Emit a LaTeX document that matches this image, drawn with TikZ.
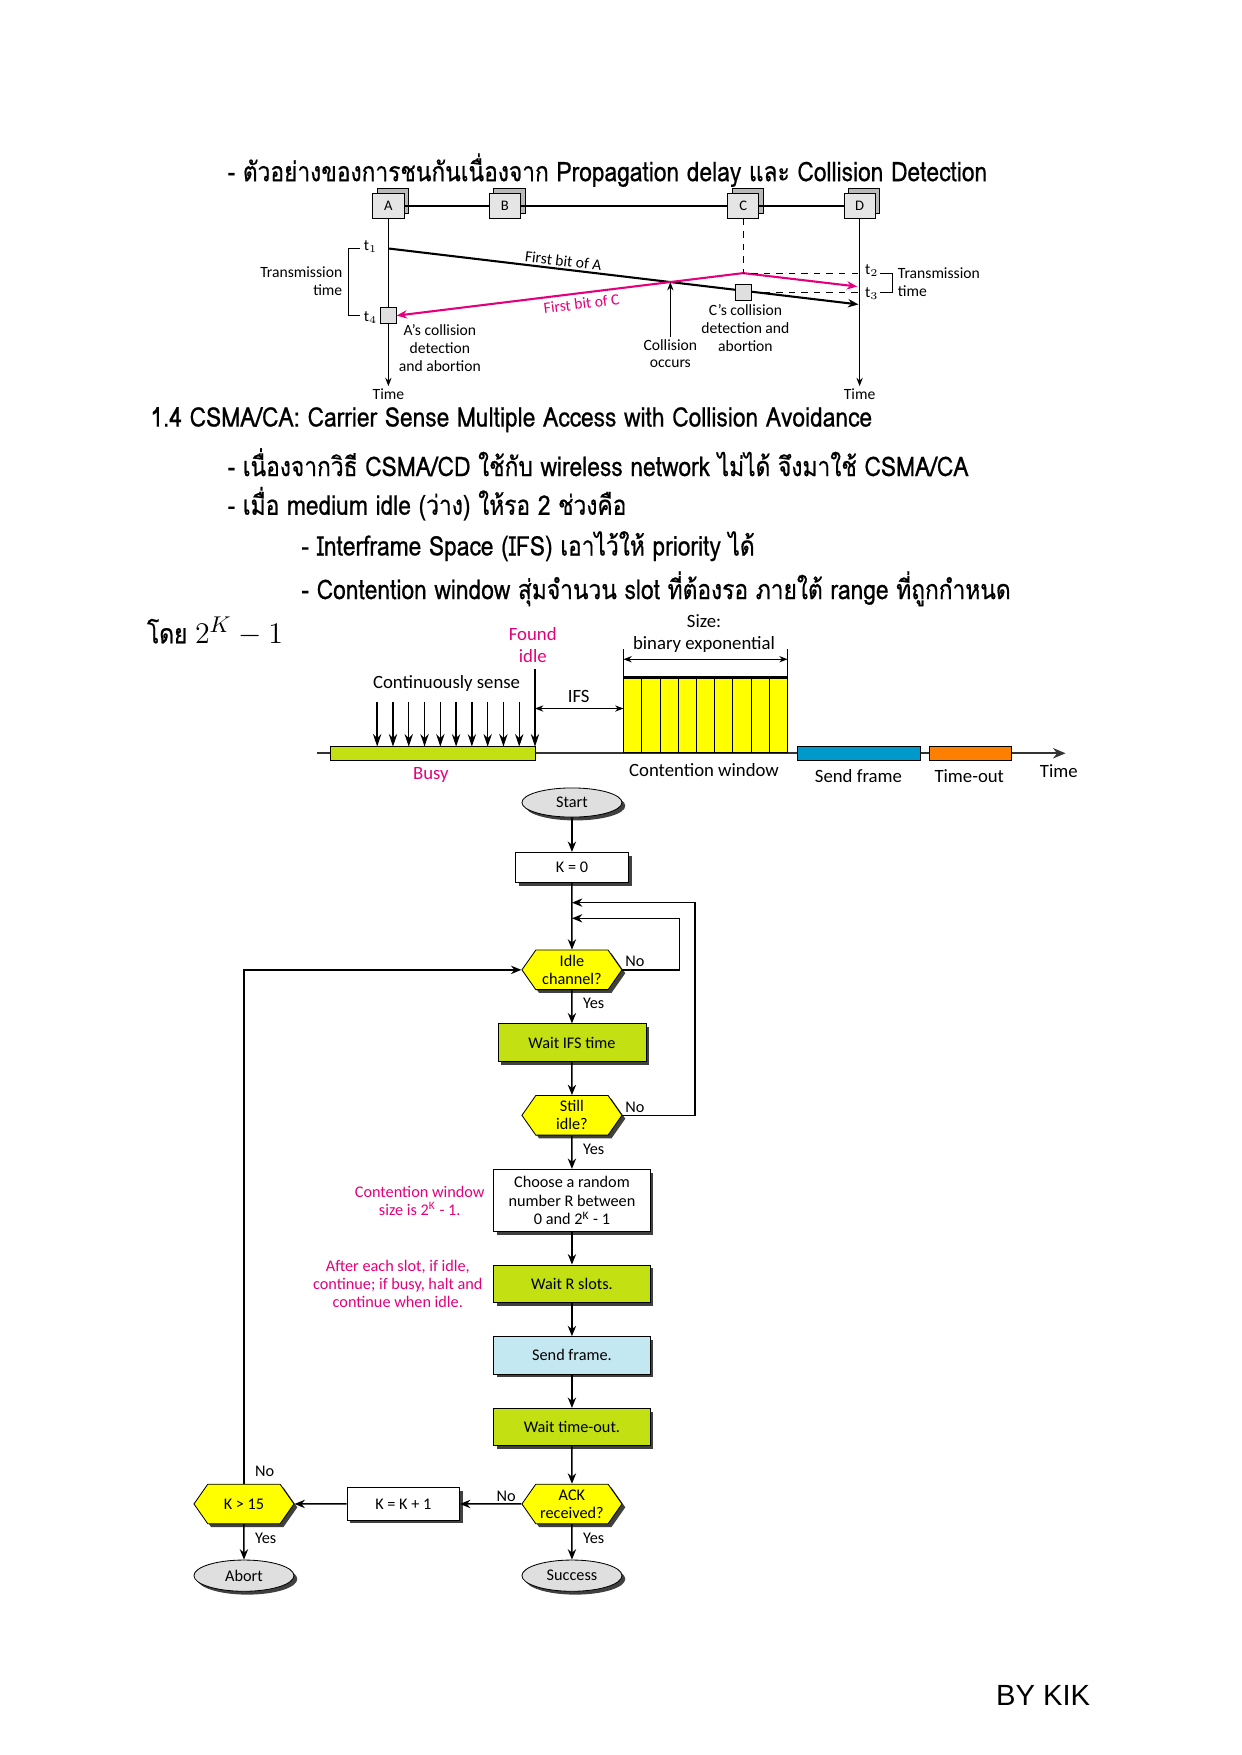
\documentclass[tikz,border=0pt]{standalone}
\usepackage{fontspec}
\setmainfont{Carlito}
\newfontfamily\thaifont[Script=Thai, FakeStretch=0.84, FakeBold=0.6]{Loma}
\newfontfamily\signfont{Liberation Sans}
\usetikzlibrary{arrows.meta,positioning,calc,shapes.geometric,shapes.symbols,shadows,intersections}

\definecolor{busygreen}{RGB}{194,224,18}
\definecolor{cwyellow}{RGB}{255,255,0}
\definecolor{sendblue}{RGB}{0,153,204}
\definecolor{toorange}{RGB}{255,128,0}
\definecolor{notepink}{RGB}{228,0,124}
\definecolor{framecyan}{RGB}{196,232,242}

\begin{document}
\begin{tikzpicture}[
    x=0.5371pt, y=-0.5371pt,
    thaitext/.style={anchor=west, inner sep=0pt, font=\thaifont\fontsize{13}{15}\selectfont},
    small/.style={font=\fontsize{7.5}{8.5}\selectfont, inner sep=1pt},
    tline/.style={font=\fontsize{9}{10.5}\selectfont, inner sep=1pt},
    flow/.style={-{Stealth[length=5pt,width=4pt]}, line width=0.7pt},
    thinarrow/.style={-{Stealth[length=4pt,width=3pt]}, line width=0.5pt},
    pinkline/.style={notepink, line width=1pt, -{Stealth[length=5pt,width=4pt]}},
    box3d/.style={draw, fill=gray!20, minimum width=15pt, minimum height=12pt, inner sep=0pt,
        font=\fontsize{7}{8}\selectfont,
        general shadow={shadow xshift=2.2pt, shadow yshift=2.2pt, fill=gray!55, draw=black}},
    hitbox/.style={draw, fill=gray!25, minimum size=7.5pt, inner sep=0pt},
    bar/.style={draw, anchor=west, minimum height=6.8pt, inner sep=0pt},
    procbox/.style={draw, fill=white, minimum width=75pt, minimum height=18pt, inner sep=1pt, align=center,
        font=\fontsize{7.8}{9}\selectfont,
        drop shadow={shadow xshift=1.6pt, shadow yshift=-1.6pt, fill=black!75, opacity=1}},
    decide/.style={signal, signal to=west and east, signal pointer angle=110, draw, fill=cwyellow,
        minimum width=48pt, minimum height=19pt, inner sep=0pt, align=center,
        font=\fontsize{7.8}{8.6}\selectfont,
        drop shadow={shadow xshift=1.6pt, shadow yshift=-1.6pt, fill=black!75, opacity=1}},
    term/.style={ellipse, draw, fill=gray!25, minimum width=48pt, minimum height=14pt, inner sep=0pt,
        font=\fontsize{7.8}{9}\selectfont,
        drop shadow={shadow xshift=1.6pt, shadow yshift=-1.6pt, fill=black!75, opacity=1}},
    note/.style={text=notepink, align=center, font=\fontsize{7.8}{8.6}\selectfont, inner sep=0pt},
    lbl/.style={font=\fontsize{7.8}{9}\selectfont, inner sep=1pt},
]
\useasboundingbox (0,0) rectangle (1109,1568);

% text lines
\node[thaitext] (head1) at (203,152) {- ตัวอย่างของการชนกันเนื่องจาก Propagation delay และ Collision Detection};
\node[thaitext] (head2) at (134,375) {1.4 CSMA/CA: Carrier Sense Multiple Access with Collision Avoidance};
\node[thaitext] (line1) at (203,413) {- เนื่องจากวิธี CSMA/CD ใช้กับ wireless network ไม่ได้ จึงมาใช้ CSMA/CA};
\node[thaitext] (line2) at (203,450) {- เมื่อ medium idle (ว่าง) ให้รอ 2 ช่วงคือ};
\node[thaitext] (line3) at (269,488) {- Interframe Space (IFS) เอาไว้ให้ priority ได้};
\node[thaitext] (line4) at (269,526) {- Contention window สุ่มจำนวน slot ที่ต้องรอ ภายใต้ range ที่ถูกกำหนด};
\node[thaitext] (line5) at (131,564) {โดย {\fontsize{15}{18}\selectfont $2^{K}-1$}};

% collision example
\node[box3d] (A) at (347,184) {A};
\node[box3d] (B) at (451,184) {B};
\node[box3d] (C) at (664,184) {C};
\node[box3d] (D) at (768,184) {D};
\draw[line width=1.3pt] (A) -- (B) (B) -- (C) (C) -- (D);

\coordinate (t1) at (347,222);
\coordinate (cTop) at (664,244);
\coordinate (t2) at (768,244);
\coordinate (t3) at (768,261);
\coordinate (Aend) at (347,345);
\coordinate (Dend) at (768,345);

\draw[thinarrow] (A.south) -- (Aend) node[small, below] {Time};
\draw[thinarrow] (D.south) -- (Dend) node[small, below] {Time};
\node[hitbox] (a4) at (347,282) {};

\draw[line width=1pt, name path=bitA, -{Stealth[length=5pt,width=4pt]}] (t1) -- (767,272)
    node[small, pos=0.37, sloped, above] {First bit of A};
\draw[pinkline, name path=bitC] (cTop) -- (a4.east)
    node[small, pos=0.47, sloped, below=1pt, text=notepink] {First bit of C};
\draw[pinkline] (cTop) -- (766,256);
\node[hitbox] (c3) at (664,261) {};
\draw[dashed, line width=0.5pt] (C.south) -- (cTop) -- (t2);
\draw[dashed, line width=0.5pt] (c3.east) -- (t3);

\path[name intersections={of=bitA and bitC, by=coll}];
\node[small, align=center] (occ) at (coll |- 0,316) {Collision\\occurs};
\draw[thinarrow] (occ.north) -- (coll);

\draw[line width=0.5pt] (322,222) -- (311,222) -- (311,282) -- (322,282);
\node[small] (t1lbl) at (331,220) {t$_1$};
\node[small] (t4lbl) at (331,284) {t$_4$};
\node[small, anchor=east, align=right] (txL) at (308,251) {Transmission\\time};
\draw[line width=0.5pt] (786,244) -- (797,244) -- (797,261) -- (786,261);
\node[small] (t2lbl) at (779,242) {t$_2$};
\node[small] (t3lbl) at (779,262) {t$_3$};
\node[small, anchor=west, align=left] (txR) at (800,252) {Transmission\\time};

\node[small, align=center] (aAbort) at (393,311) {A’s collision\\detection\\and abortion};
\node[small, align=center] (cAbort) at (666,293) {C’s collision\\detection and\\abortion};

% timeline
\coordinate (tlStart) at (283,673);
\coordinate (tlEnd) at (952,673);
\draw[line width=1pt, black!80, -{Stealth[length=6pt,width=5pt]}] (tlStart) -- (tlEnd);
\node[tline] (timeLbl) at (946,689) {Time};
\node[bar, fill=busygreen, minimum width=98.3pt] (busy) at (295,673) {};
\node[bar, fill=sendblue, minimum width=59pt] (sendbar) at (712,673) {};
\node[bar, fill=toorange, minimum width=39.2pt] (tobar) at (830,673) {};
\node[draw, fill=cwyellow, anchor=south west, minimum width=78.4pt, minimum height=36pt, inner sep=0pt] (cw) at (557,673) {};
\foreach \i in {1,...,8}
    \draw ($(cw.south west)!\i/9!(cw.south east)$) -- ($(cw.north west)!\i/9!(cw.north east)$);
\draw[line width=1.2pt] (cw.north west) -- (cw.north east);

\foreach \i in {0,...,9}
    \draw[-{Stealth[length=6pt,width=4pt]}, line width=0.7pt] ({337+14.1*\i},627) -- ({337+14.1*\i},667);
\coordinate (idleTop) at (478,598);
\draw[-{Stealth[length=6pt,width=4pt]}, line width=0.7pt] (idleTop) -- (478,667);
\coordinate (ifsY) at (0,633);
\draw[{Stealth[length=4pt,width=3pt]}-{Stealth[length=4pt,width=3pt]}, line width=0.5pt] (478,633) -- (cw.west |- ifsY);
\coordinate (sizeY) at (0,589);
\draw[line width=0.5pt] (cw.north west) -- ++(0,-25);
\draw[line width=0.5pt] (cw.north east) -- ++(0,-25);
\draw[{Stealth[length=4pt,width=3pt]}-{Stealth[length=4pt,width=3pt]}, line width=0.5pt] (cw.north west |- sizeY) -- (cw.north east |- sizeY);

\node[tline, text=notepink, align=center] (found) at (476,576) {Found\\idle};
\node[tline] (contsense) at (399,611) {Continuously sense};
\node[tline] (ifslbl) at (517,622) {IFS};
\node[tline, align=center] (sizelbl) at (629,566) {Size:\\binary exponential};
\node[tline, text=notepink] (busylbl) at (385,692) {Busy};
\node[tline] (cwlbl) at (629,688) {Contention window};
\node[tline] (sendlbl) at (767,693) {Send frame};
\node[tline] (tolbl) at (866,693) {Time-out};

% flowchart
\node[term] (start) at (511,717) {Start};
\node[procbox, minimum width=54pt, minimum height=14.5pt, below=16.5pt of start] (k0) {K = 0};
\node[decide, below=32pt of k0] (idle) {Idle\\channel?};
\node[procbox, fill=busygreen, minimum width=71pt, below=16pt of idle] (ifs) {Wait IFS time};
\node[decide, below=16pt of ifs] (still) {Still\\idle?};
\node[procbox, minimum height=30pt, below=16pt of still] (choose) {Choose a random\\number R between\\0 and 2\textsuperscript{K} - 1};
\node[procbox, fill=busygreen, below=15.5pt of choose] (waitr) {Wait R slots.};
\node[procbox, fill=framecyan, below=16pt of waitr] (send) {Send frame.};
\node[procbox, fill=busygreen, below=16pt of send] (waitto) {Wait time-out.};
\node[decide, below=18pt of waitto] (ack) {ACK\\received?};
\node[term, minimum height=15pt, below=17pt of ack] (success) {Success};
\node[procbox, minimum width=54pt, minimum height=15.5pt, left=29.5pt of ack] (kinc) {K = K + 1};
\node[decide, left=25pt of kinc] (kmax) {K > 15};
\node[term, minimum height=15pt, below=17pt of kmax] (abort) {Abort};

\node[note, left=4pt of choose] (cwnote) {Contention window\\size is 2\textsuperscript{K} - 1.};
\node[note, left=5pt of waitr] (slotnote) {After each slot, if idle,\\continue; if busy, halt and\\continue when idle.};

\coordinate (j1) at ($(idle.north)+(0,-28)$);
\coordinate (j2) at ($(idle.north)+(0,-42)$);

\draw[flow] (start) -- (k0);
\draw[flow] (k0) -- (idle);
\draw[flow] (idle) -- node[lbl, right=4pt, pos=0.4] {Yes} (ifs);
\draw[flow] (ifs) -- (still);
\draw[flow] (still) -- node[lbl, right=4pt, pos=0.4] {Yes} (choose);
\draw[flow] (choose) -- (waitr);
\draw[flow] (waitr) -- (send);
\draw[flow] (send) -- (waitto);
\draw[flow] (waitto) -- (ack);
\draw[flow] (ack) -- node[lbl, right=4pt, pos=0.4] {Yes} (success);
\draw[flow] (ack) -- node[lbl, above, pos=0.25] {No} (kinc);
\draw[flow] (kinc) -- (kmax);
\draw[flow] (kmax) -- node[lbl, right=4pt, pos=0.4] {Yes} (abort);
\draw[flow] (idle.east) node[lbl, above right] {No} -- ++(51,0) |- (j1);
\draw[flow] (still.east) node[lbl, above right] {No} -- ++(65,0) |- (j2);
\draw[flow] (kmax.north) node[lbl, above right=2pt and 4pt] {No} |- (idle.west);

\node[font=\signfont\fontsize{14}{16}\selectfont] (bykik) at (932,1515) {BY KIK};
\end{tikzpicture}
\end{document}
